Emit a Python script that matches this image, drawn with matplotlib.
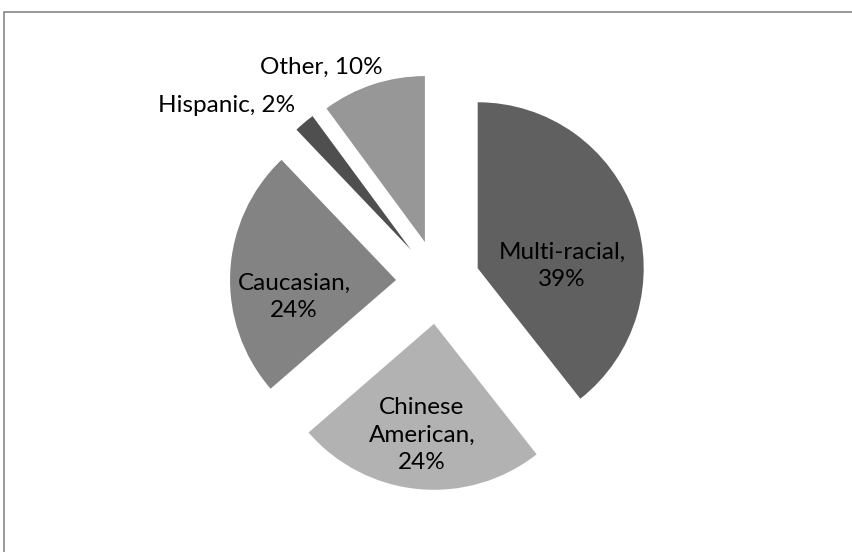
import matplotlib.pyplot as plt
from matplotlib.patches import Rectangle

# ethnicity breakdown (percent)
groups = ["Multi-racial", "Chinese\nAmerican", "Caucasian", "Hispanic", "Other"]
shares = [39, 24, 24, 2, 10]
colors = ["#606060", "#b2b2b2", "#838383", "#4f4f4f", "#979797"]

# label text placement (pixel coords, y up) and whether it is one line
label_pos = [(562, 286), (422, 117), (294, 255), (227, 447), (321, 485)]
one_line = [False, False, False, True, True]

W, H = 853, 552
fig = plt.figure(figsize=(W / 100, H / 100), dpi=100)
ax = fig.add_axes([0, 0, 1, 1])

# explode is in data units here (pixels)
wedges, _ = ax.pie(shares, colors=colors, startangle=90, counterclock=False,
                   explode=[42] * len(shares), radius=166, center=(438, 270),
                   wedgeprops=dict(linewidth=0))

for name, val, (x, y), single in zip(groups, shares, label_pos, one_line):
    sep = " " if single else "\n"
    ax.text(x, y, f"{name},{sep}{val}%", ha="center", va="center",
            fontsize=17.5, family="Lato", linespacing=1.4, color="black")

ax.set_xlim(0, W)
ax.set_ylim(0, H)
ax.set_aspect("equal")
ax.axis("off")

# chart area border, cut off at right and bottom
fig.add_artist(Rectangle((4.5 / W, -0.1), 1.2, (H - 11.5) / H + 0.1,
                         transform=fig.transFigure, fill=False,
                         edgecolor="#868686", linewidth=1.2))

fig.savefig("out.png", dpi=100)
